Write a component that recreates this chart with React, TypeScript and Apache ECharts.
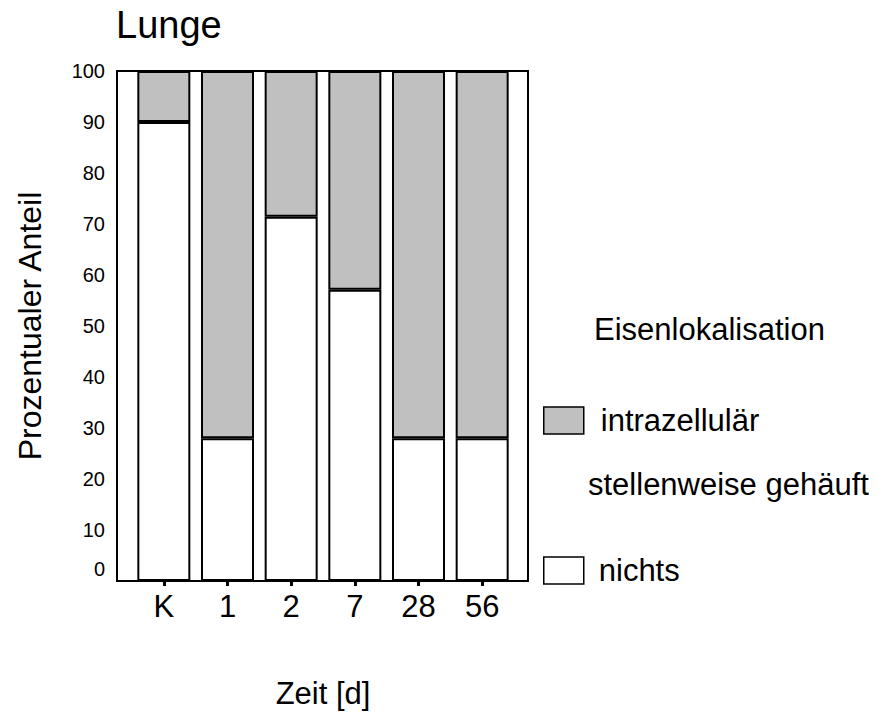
import React, { useEffect, useRef } from "react";
import * as echarts from "echarts";

const categories = ["K", "1", "2", "7", "28", "56"];
const nichts = [90, 28, 71.4, 57.1, 28, 28];
const stellenweise = [0, 0, 0, 0, 0, 0];
const intrazellular = [10, 72, 28.6, 42.9, 72, 72];
const yTicks = [0, 10, 20, 30, 40, 50, 60, 70, 80, 90, 100];

const FONT = "Liberation Sans, Arial, sans-serif";

export default function App() {
  const ref = useRef<HTMLDivElement>(null);
  useEffect(() => {
    if (!ref.current) return;
    const chart = echarts.init(ref.current, null, { renderer: "svg" });
    const barStyle = (color: string, bw = 2) => ({ color, borderColor: "#000", borderWidth: bw });
    chart.setOption({
      animation: false,
      backgroundColor: "#fff",
      textStyle: { fontFamily: FONT, color: "#000" },
      title: [
        { text: "Lunge", left: 116, top: 6, padding: 0, textStyle: { fontFamily: FONT, fontSize: 38, fontWeight: "normal", color: "#000" } },
        { text: "Eisenlokalisation", left: 594, top: 314, padding: 0, textStyle: { fontFamily: FONT, fontSize: 31, fontWeight: "normal", color: "#000" } },
      ],
      grid: { left: 132, top: 71, width: 382, height: 510, containLabel: false, outerBoundsMode: "none" },
      xAxis: {
        type: "category",
        data: categories,
        name: "Zeit [d]",
        nameLocation: "middle",
        nameGap: 97,
        nameTextStyle: { fontFamily: FONT, fontSize: 31, color: "#000" },
        axisLine: { show: false },
        axisTick: { show: true, alignWithLabel: true, length: 5, lineStyle: { color: "#000", width: 3 } },
        axisLabel: { margin: 10, fontFamily: FONT, fontSize: 31, color: "#000" },
        z: 200,
      },
      yAxis: {
        type: "value",
        min: 0,
        max: 100,
        interval: 10,
        name: "Prozentualer Anteil",
        nameLocation: "middle",
        nameGap: 86,
        nameTextStyle: { fontFamily: FONT, fontSize: 32, color: "#000" },
        axisLine: { show: false },
        axisTick: { show: false },
        splitLine: { show: false },
        axisLabel: {
          margin: 27,
          fontFamily: FONT,
          fontSize: 20,
          color: "#000",
          formatter: (v: number) => (v === 0 ? "{z|0}" : yTicks.includes(v) ? String(v) : ""),
          rich: { z: { fontFamily: FONT, fontSize: 20, color: "#000", padding: [0, 0, 24, 0] } },
        },
      },
      legend: [
        {
          data: [{ name: "intrazellulär", icon: "rect" }],
          left: 543,
          top: 405,
          padding: 0,
          itemWidth: 40,
          itemHeight: 27,
          itemStyle: { borderColor: "#000", borderWidth: 1.5 },
          textStyle: { fontFamily: FONT, fontSize: 31, color: "#000", padding: [0, 0, 0, 12] },
          selectedMode: false,
        },
        {
          data: [{ name: "stellenweise gehäuft", icon: "none" }],
          left: 583,
          top: 469,
          padding: 0,
          itemWidth: 0,
          itemHeight: 27,
          textStyle: { fontFamily: FONT, fontSize: 31, color: "#000" },
          selectedMode: false,
        },
        {
          data: [{ name: "nichts", icon: "rect" }],
          left: 543,
          top: 555,
          padding: 0,
          itemWidth: 40,
          itemHeight: 27,
          itemStyle: { borderColor: "#000", borderWidth: 1.5 },
          textStyle: { fontFamily: FONT, fontSize: 31, color: "#000", padding: [0, 0, 0, 10] },
          selectedMode: false,
        },
      ],
      graphic: [
        {
          type: "rect",
          shape: { x: 117, y: 71, width: 411, height: 510 },
          style: { fill: "none", stroke: "#000", lineWidth: 2 },
          z: 100,
          silent: true,
        },
      ],
      series: [
        { name: "nichts", type: "bar", stack: "a", barWidth: 53, data: nichts, itemStyle: barStyle("#ffffff") },
        { name: "stellenweise gehäuft", type: "bar", stack: "a", barWidth: 53, data: stellenweise, itemStyle: barStyle("#808080", 0) },
        { name: "intrazellulär", type: "bar", stack: "a", barWidth: 53, data: intrazellular, itemStyle: barStyle("#c0c0c0") },
      ],
    });
    return () => chart.dispose();
  }, []);
  return <div ref={ref} style={{ width: 883, height: 713, position: "absolute", left: 0, top: 0 }} />;
}
